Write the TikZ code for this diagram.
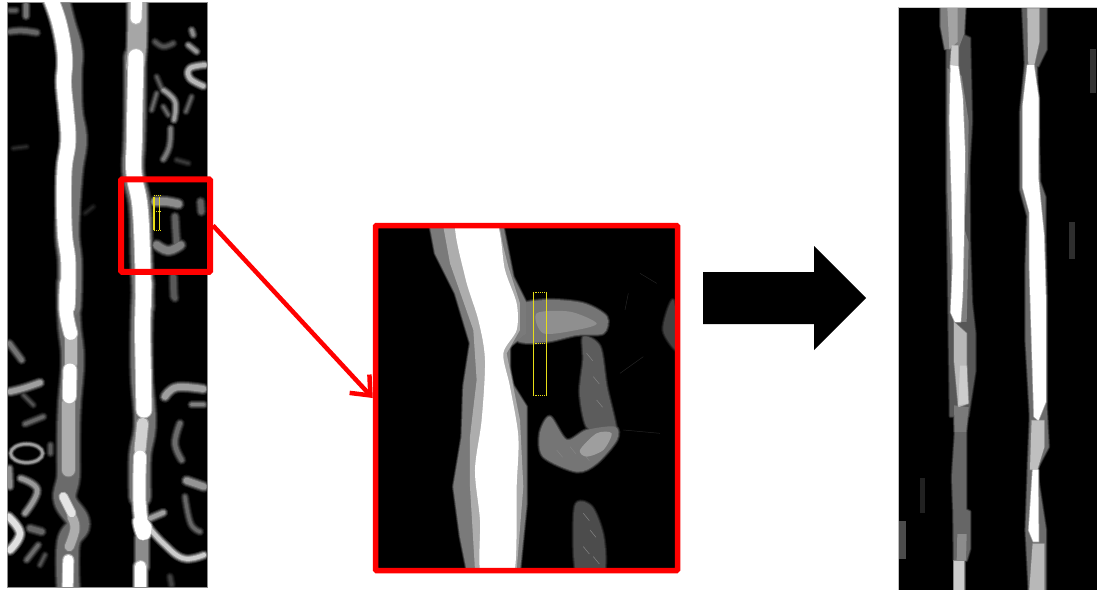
\documentclass[tikz,border=0pt]{standalone}
\usetikzlibrary{arrows.meta}
\tikzset{
  lum/.style={draw=white!#1!black,line cap=round,line join=round},
  zA/.style={shift={(0,0)},x=.3333pt,y=-.3333pt},
  zB/.style={shift={(0,290)},x=.3333pt,y=-.3333pt},
  zC/.style={shift={(370,220)},x=.3333pt,y=-.3333pt},
  zD/.style={shift={(890,0)},x=.3333pt,y=-.3788pt},
  redbox/.style={draw=red,rounded corners=1pt,inner sep=0pt,fill=none},
  redarrow/.style={draw=red,line width=4.5pt,-{Straight Barb[length=16pt,width=27pt,line width=4.5pt]}},
  yel/.style={draw=yellow!90!black,line width=#1},
  yeld/.style={draw=yellow!90!black,line width=.9pt,densely dotted}
}
% soft stroke: lum, width, coordinates
\newcommand{\blot}[3]{%
  \pgfmathsetmacro\wa{#2+6}\pgfmathsetmacro\wb{#2+4}\pgfmathsetmacro\wc{#2+2}%
  \pgfmathsetmacro\la{#1*.2}\pgfmathsetmacro\lb{#1*.45}\pgfmathsetmacro\lc{#1*.72}%
  \draw[lum=\la,line width=\wa pt] plot[smooth,tension=.7] coordinates {#3};
  \draw[lum=\lb,line width=\wb pt] plot[smooth,tension=.7] coordinates {#3};
  \draw[lum=\lc,line width=\wc pt] plot[smooth,tension=.7] coordinates {#3};
  \draw[lum=#1,line width=#2 pt] plot[smooth,tension=.7] coordinates {#3};}
% soft polygon: lum, coordinates
\newcommand{\pol}[2]{%
  \pgfmathsetmacro\la{#1*.3}\pgfmathsetmacro\lb{#1*.65}%
  \path[draw=white!\la!black,line width=3pt,line join=round] plot coordinates {#2} -- cycle;
  \path[draw=white!\lb!black,line width=1.5pt,line join=round] plot coordinates {#2} -- cycle;
  \path[fill=white!#1!black] plot coordinates {#2} -- cycle;}
\newcommand{\sol}[2]{%
  \pgfmathsetmacro\la{#1*.3}\pgfmathsetmacro\lb{#1*.65}%
  \path[draw=white!\la!black,line width=4pt,line join=round] plot[smooth cycle] coordinates {#2};
  \path[draw=white!\lb!black,line width=2pt,line join=round] plot[smooth cycle] coordinates {#2};
  \path[fill=white!#1!black] plot[smooth cycle] coordinates {#2};}
\begin{document}
\begin{tikzpicture}[x=1pt,y=-1pt]
\useasboundingbox (0,0) rectangle (1097,592);
\fill[white] (0,0) rectangle (1097,592);
% ---- left panel
\fill[black] (7,2) rectangle (207,587);
\draw[white!55!black,line width=.7pt] (7,2) rectangle (207,587);
\begin{scope}[blend mode=lighten]
\clip (7.5,2.5) rectangle (206.5,586.5);
\begin{scope}[zA]
\blot{45}{22}{(170,-10) (190,70) (212,150) (210,220) (212,330) (225,420) (212,520) (202,690) (210,790) (208,920)}
\blot{100}{14}{(150,-10) (178,70) (195,170) (192,250) (200,340) (205,425) (193,520) (194,690) (205,790) (203,920)}
\blot{65}{18}{(412,-10) (412,80) (410,150) (405,200)}
\blot{100}{11}{(410,-10) (408,55)}
\blot{45}{20}{(405,170) (405,300) (403,420) (400,520) (420,620) (425,780) (430,920)}
\blot{100}{15}{(408,170) (405,300) (403,420) (402,520) (420,620) (428,780) (430,920)}
\blot{35}{3}{(30,30) (48,30)}
\blot{45}{4}{(78,15) (78,48)}
\blot{40}{4}{(30,95) (65,92) (110,98)}
\blot{32}{3}{(465,125) (490,140) (520,130)}
\blot{55}{3}{(575,90) (580,105)}
\blot{60}{3}{(565,135) (590,155)}
\blot{72}{4}{(615,195) (570,205) (570,235) (610,258)}
\blot{35}{2}{(470,230) (485,265)}
\blot{40}{2}{(470,280) (455,330)}
\blot{62}{3}{(490,270) (525,305) (522,360)}
\blot{40}{2}{(490,320) (505,345)}
\blot{48}{3}{(512,385) (508,440) (490,478)}
\blot{38}{2}{(575,290) (558,335)}
\blot{22}{2}{(530,480) (565,490)}
\blot{55}{7}{(465,605) (500,605) (535,612)}
\blot{38}{5}{(525,650) (530,730)}
\blot{50}{7}{(470,735) (505,752) (542,735)}
\blot{38}{5}{(602,605) (604,635)}
\blot{35}{5}{(520,830) (522,890)}
\blot{18}{1}{(40,445) (80,440)}
\blot{15}{1}{(255,640) (280,620)}
\end{scope}
\begin{scope}[zB]
\blot{42}{21}{(205,-20) (208,100) (218,210) (208,350) (205,470) (205,560) (195,630) (235,700) (205,760) (205,900)}
\blot{100}{13}{(200,-20) (198,60) (212,130)}
\blot{72}{12}{(212,120) (212,220)}
\blot{100}{13}{(210,240) (208,320)}
\blot{68}{13}{(205,340) (205,450) (205,540)}
\blot{90}{8}{(190,620) (215,670)}
\blot{68}{9}{(215,680) (225,715) (208,770)}
\blot{100}{10}{(205,810) (203,890)}
\blot{45}{20}{(430,-20) (425,100) (425,250) (435,400) (420,500) (420,620)}
\blot{100}{15}{(432,-20) (428,100) (430,250) (432,360)}
\blot{82}{11}{(428,400) (420,480)}
\blot{100}{12}{(420,500) (418,620) (425,700)}
\sol{100}{(400,690) (430,680) (455,710) (445,745) (415,745)}
\blot{55}{12}{(425,745) (425,830)}
\blot{100}{11}{(422,830) (422,895)}
\blot{80}{4}{(445,710) (490,760) (550,805) (612,795)}
\blot{62}{4}{(450,685) (490,668)}
\blot{45}{4}{(28,160) (65,210)}
\blot{62}{5}{(30,305) (70,295) (120,278)}
\blot{32}{2}{(70,315) (100,345)}
\blot{40}{3}{(75,402) (130,380)}
\foreach \wl/\lw in {12/6,30/4.5,48/3,62/2}{\draw[white!\wl!black,line width=\lw pt] (80,490) ellipse [x radius=48,y radius=28];}
\blot{55}{4}{(28,535) (30,590)}
\blot{60}{4}{(62,565) (112,600) (75,670)}
\blot{88}{6}{(25,680) (60,730) (30,780)}
\blot{40}{5}{(90,715) (125,725)}
\blot{42}{3}{(80,810) (115,765)}
\blot{32}{2}{(120,825) (135,795)}
\blot{35}{3}{(152,465) (152,490)}
\blot{62}{6}{(495,320) (530,292) (610,297)}
\blot{50}{3}{(575,345) (612,345)}
\blot{42}{4}{(540,400) (525,460) (545,510)}
\blot{58}{6}{(560,572) (612,590)}
\blot{40}{3}{(555,620) (572,700) (600,725)}
\blot{35}{4}{(520,0) (525,25)}
\blot{25}{3}{(510,860) (515,885)}
\end{scope}
\end{scope}
\begin{scope}[zA]
\draw[yel=1.3pt] (462,590) -- (462,690) (479,590) -- (479,690);
\draw[yeld] (462,585) -- (480,585) (462,634) -- (480,634) (462,690) -- (480,690);
\end{scope}
% ---- zoom image
\node[inner sep=0pt,minimum width=302pt,minimum height=343pt,fill=black] (zoomimg) at (526.5,398) {};
\begin{scope}[blend mode=lighten]
\clip (376,226) rectangle (677,570);
\begin{scope}[zC]
\pol{48}{(180,20) (195,100) (255,220) (300,370) (280,500) (275,650) (250,800) (270,950) (290,1050) (450,1050) (470,850) (470,560) (420,480) (420,380) (470,340) (470,250) (430,170) (400,20)}
\pol{68}{(220,20) (240,130) (310,330) (320,480) (300,650) (300,800) (315,1050) (440,1050) (460,800) (450,600) (430,500) (410,400) (450,330) (450,250) (415,140) (385,20)}
\sol{100}{(258,0) (285,170) (325,300) (345,420) (335,600) (315,750) (330,900) (335,1070) (430,1070) (440,800) (445,650) (420,500) (400,400) (440,330) (440,250) (405,150) (375,0)}
\sol{46}{(445,260) (530,240) (640,250) (710,290) (700,340) (620,345) (530,365) (440,360)}
\sol{56}{(500,280) (600,275) (680,310) (620,330) (520,340)}
\sol{36}{(640,350) (690,380) (710,500) (740,640) (700,640) (650,620) (630,520) (640,420)}
\sol{46}{(510,640) (540,590) (590,660) (650,630) (735,620) (740,660) (680,730) (620,755) (520,710)}
\sol{62}{(630,690) (680,640) (725,640) (700,690) (650,710)}
\sol{30}{(615,860) (665,860) (700,950) (700,1060) (620,1060)}
\sol{26}{(880,330) (910,240) (925,390)}
\foreach \ax/\ay in {530/290,560/300,590/285,620/300,650/295,560/690,600/680,640/700,660/660,690/650,650/400,670/470,680/540,640/880,660/930,640/980,670/1010}
  {\draw[white!52!black,line width=.5pt] (\ax,\ay) -- ++(18,22);}
\draw[white!14!black,line width=.5pt] (810,160) -- (860,190) (760,630) -- (870,640) (750,460) -- (820,410) (775,220) -- (765,270);
\end{scope}
\end{scope}
\begin{scope}[zC]
\draw[yel=1pt] (490,220) -- (490,525) (530,220) -- (530,525);
\draw[yeld] (488,216) -- (532,216) (488,371) -- (532,371) (488,525) -- (532,525);
\end{scope}
% ---- right panel
\fill[black] (898,7) rectangle (1097,590);
\draw[white!80!black,line width=.8pt] (898,7) -- (1097,7);
\draw[white!75!black,line width=.5pt] (898,7) -- (898,590);
\begin{scope}[blend mode=lighten]
\clip (898,7.5) rectangle (1097,590);
\begin{scope}[zD]
\fill[white!20!black] (600,130) rectangle (618,245);
\fill[white!18!black] (537,585) rectangle (556,685);
\fill[white!13!black] (90,1262) rectangle (106,1355);
\fill[white!30!black] (24,1375) rectangle (48,1475);
% strand 1
\pol{34}{(205,85) (240,100) (246,320) (238,440) (240,640) (246,800) (256,880) (256,980) (235,1100) (180,1100) (170,500) (170,130)}
\pol{50}{(152,20) (226,20) (222,90) (205,130) (165,130) (152,70)}
\pol{64}{(172,20) (203,20) (203,110) (178,130)}
\pol{78}{(185,120) (205,120) (205,180) (180,180)}
\pol{50}{(172,180) (215,200) (236,320) (234,450) (222,600) (236,640) (230,850) (190,850) (172,500)}
\pol{100}{(182,172) (205,175) (218,255) (225,400) (222,620) (218,780) (212,850) (195,850) (182,825) (188,700) (185,520) (178,320)}
\pol{72}{(192,850) (230,880) (230,970) (236,1065) (205,1075) (192,950)}
\pol{80}{(210,965) (230,965) (234,1065) (205,1070)}
\pol{48}{(192,1070) (236,1075) (228,1140) (194,1140)}
\pol{40}{(195,1140) (228,1140) (228,1345) (240,1350) (240,1450) (230,1480) (192,1480) (190,1350) (186,1260)}
\pol{30}{(190,1270) (215,1270) (215,1400) (197,1400)}
\pol{55}{(202,1410) (230,1410) (228,1480) (200,1480)}
\pol{80}{(192,1480) (223,1480) (223,1570) (192,1570)}
% strand 2
\pol{38}{(397,22) (470,22) (470,130) (445,175) (405,175)}
\pol{72}{(412,22) (448,22) (448,110) (432,175) (415,175)}
\pol{42}{(405,170) (440,170) (450,480) (466,520) (466,620) (470,800) (470,1080) (476,1180) (440,1240) (468,1400) (468,1570) (417,1570) (407,1400) (414,1220) (420,1100) (407,900) (407,700) (412,570) (390,500) (390,300)}
\pol{100}{(412,172) (432,172) (446,260) (445,470) (462,620) (468,800) (468,1060) (445,1110) (432,1100) (425,900) (418,700) (418,560) (398,495) (398,280)}
\pol{75}{(425,1110) (463,1110) (463,1180) (442,1240) (420,1240)}
\pol{100}{(428,1240) (444,1240) (446,1430) (430,1430) (416,1400)}
\pol{72}{(428,1435) (463,1435) (463,1570) (417,1570)}
\end{scope}
\end{scope}
% ---- red frames and connectors
\node[redbox,line width=6pt,minimum width=89pt,minimum height=92.5pt] (crop) at (165.5,225.5) {};
\node[redbox,line width=5.5pt,minimum width=302pt,minimum height=345pt] (zoomframe) at (526.5,398) {};
\draw[redarrow] (crop.east) -- (zoomframe.west);
% ---- black arrow
\fill[black] (703,272) -- (814,272) -- (814,246) -- (866,298) -- (814,350) -- (814,324) -- (703,324) -- cycle;
\end{tikzpicture}
\end{document}
